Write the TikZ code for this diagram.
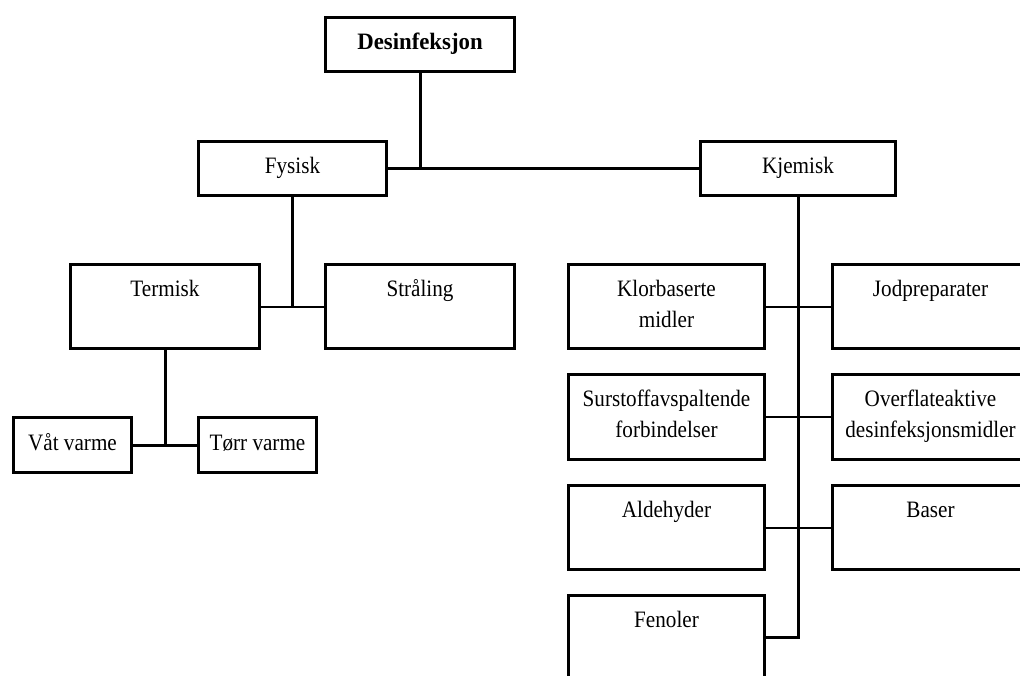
\documentclass[tikz,border=0pt]{standalone}
\usepackage{fontspec}
\setmainfont{Liberation Serif}[FakeStretch=0.9,BoldFeatures={FakeStretch=0.97}]
\begin{document}
\begin{tikzpicture}[x=1pt,y=-1pt,
  box/.style={draw, line width=2.8pt, inner sep=0pt, minimum width=#1},
  box/.default=189pt,
  lbl/.style={anchor=base, inner sep=0pt, align=center, font=\fontsize{23.5pt}{31pt}\selectfont},
  thick line/.style={line width=3pt},
  thin line/.style={line width=2pt}]
\useasboundingbox (0,0) rectangle (1020,675);
\clip (0,0) rectangle (1020,675);
\fill[white] (0,0) rectangle (1020,675);
% boxes
\node[box=189pt, minimum height=54pt] (D) at (420,44.5) {};
\node[box=188pt, minimum height=54pt] (F) at (292.5,168.5) {};
\node[box=195pt, minimum height=54pt] (K) at (798,168.5) {};
\node[box=189pt, minimum height=84pt] (T) at (165,306.5) {};
\node[box=189pt, minimum height=84pt] (S) at (420,306.5) {};
\node[box=118pt, minimum height=55pt] (V) at (72.5,445) {};
\node[box=118pt, minimum height=55pt] (R) at (257.5,445) {};
\node[box=196pt, minimum height=84pt] (KL) at (666.5,306.5) {};
\node[box=196pt, minimum height=84pt] (JO) at (930.5,306.5) {};
\node[box=196pt, minimum height=85pt] (SU) at (666.5,417) {};
\node[box=196pt, minimum height=85pt] (OV) at (930.5,417) {};
\node[box=196pt, minimum height=84pt] (AL) at (666.5,527.5) {};
\node[box=196pt, minimum height=84pt] (BA) at (930.5,527.5) {};
\node[box=196pt, minimum height=84pt] (FE) at (666.5,637.5) {};
% labels
\node[lbl] (Dt) at ([yshift=-33.5pt]D.north) {\bfseries Desinfeksjon};
\node[lbl] (Ft) at ([yshift=-33.5pt]F.north) {Fysisk};
\node[lbl] (Kt) at ([yshift=-33.5pt]K.north) {Kjemisk};
\node[lbl] (Tt) at ([yshift=-33.5pt]T.north) {Termisk};
\node[lbl] (St) at ([yshift=-33.5pt]S.north) {Stråling};
\node[lbl] (Vt) at ([yshift=-34.5pt]V.north) {Våt varme};
\node[lbl] (Rt) at ([yshift=-34.5pt]R.north) {Tørr varme};
\node[lbl] (KLt) at ([yshift=-64.5pt]KL.north) {Klorbaserte\\midler};
\node[lbl] (JOt) at ([yshift=-33.5pt]JO.north) {Jodpreparater};
\node[lbl] (SUt) at ([yshift=-64.5pt]SU.north) {Surstoffavspaltende\\forbindelser};
\node[lbl] (OVt) at ([yshift=-64.5pt]OV.north) {Overflateaktive\\desinfeksjonsmidler};
\node[lbl] (ALt) at ([yshift=-33.5pt]AL.north) {Aldehyder};
\node[lbl] (BAt) at ([yshift=-33.5pt]BA.north) {Baser};
\node[lbl] (FEt) at ([yshift=-33.5pt]FE.north) {Fenoler};
% connectors
\draw[thick line] (D.south) -- (D.south |- F.east);
\draw[thick line] (F.east) -- (K.west);
\draw[thick line] (F.south) -- (F.south |- T.east);
\draw[thin line] (T.east) -- (S.west);
\draw[thick line] (T.south) -- (T.south |- V.east);
\draw[thick line] (V.east) -- (R.west);
\draw[thick line] (K.south) -- (K.south |- FE.east) -- (FE.east);
\draw[thin line] (KL.east) -- (JO.west);
\draw[thin line] (SU.east) -- (OV.west);
\draw[thin line] (AL.east) -- (BA.west);
\end{tikzpicture}
\end{document}
